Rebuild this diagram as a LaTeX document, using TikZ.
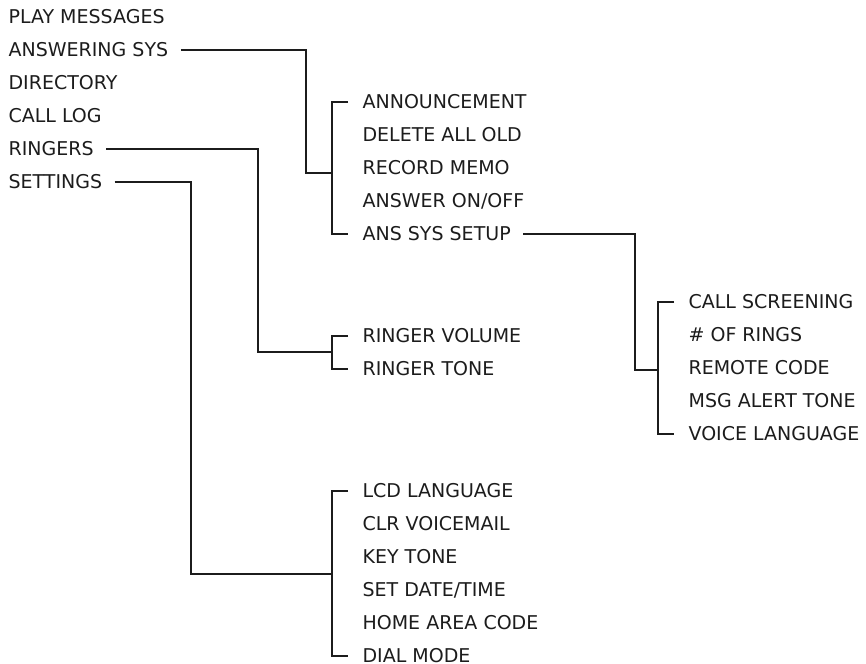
\documentclass[tikz,border=0pt]{standalone}
\usepackage{fontspec}
\setmainfont{DejaVu Sans}
\usepackage{xcolor}
\usepackage{tikz}
\usetikzlibrary{positioning}

\definecolor{menuink}{HTML}{1C1C1C}

\begin{document}
\begin{tikzpicture}[x=1pt,y=1pt,
    line width=1.2pt,draw=menuink,
    item/.style={anchor=west,inner sep=0pt,text=menuink,text height=13.8pt,text depth=0pt,
      font=\fontsize{19}{21}\selectfont},
    under/.style={below=33pt of #1.west,anchor=west}]
  \useasboundingbox (0,0) rectangle (866,-663);

  % main menu
  \node[item] (play) at (8,-17) {PLAY MESSAGES};
  \node[item, under=play] (answ) {ANSWERING SYS};
  \node[item, under=answ] (dir) {DIRECTORY};
  \node[item, under=dir] (log) {CALL LOG};
  \node[item, under=log] (ring) {RINGERS};
  \node[item, under=ring] (sett) {SETTINGS};

  % answering system
  \node[item] (annc) at (362,-102) {ANNOUNCEMENT};
  \node[item, under=annc] (delold) {DELETE ALL OLD};
  \node[item, under=delold] (memo) {RECORD MEMO};
  \node[item, under=memo] (onoff) {ANSWER ON/OFF};
  \node[item, under=onoff] (setup) {ANS SYS SETUP};

  % ans sys setup
  \node[item] (screen) at (688,-302) {CALL SCREENING};
  \node[item, under=screen] (rings) {\# OF RINGS};
  \node[item, under=rings] (remote) {REMOTE CODE};
  \node[item, under=remote] (alert) {MSG ALERT TONE};
  \node[item, under=alert] (vlang) {VOICE LANGUAGE};

  % ringers
  \node[item] (rvol) at (362,-336) {RINGER VOLUME};
  \node[item, under=rvol] (rtone) {RINGER TONE};

  % settings
  \node[item] (lcd) at (362,-491) {LCD LANGUAGE};
  \node[item, under=lcd] (clr) {CLR VOICEMAIL};
  \node[item, under=clr] (key) {KEY TONE};
  \node[item, under=key] (date) {SET DATE/TIME};
  \node[item, under=date] (area) {HOME AREA CODE};
  \node[item, under=area] (dial) {DIAL MODE};

  \coordinate (brA) at (332,-173);
  \coordinate (brR) at (332,-352);
  \coordinate (brS) at (332,-574);
  \coordinate (brC) at (657,-370);

  \foreach \a/\b in {annc/setup,rvol/rtone,lcd/dial,screen/vlang}
    \draw ([xshift=-14pt]\a.west) -| ([xshift=-30pt]\b.west) -- ([xshift=-14pt]\b.west);

  \draw ([xshift=12pt]answ.east) -| ([xshift=-26pt]brA) -- (brA);
  \draw ([xshift=12pt]ring.east) -| ([xshift=-74pt]brR) -- (brR);
  \draw ([xshift=12pt]sett.east) -| ([xshift=-141pt]brS) -- (brS);
  \draw ([xshift=12pt]setup.east) -| ([xshift=-22pt]brC) -- (brC);
\end{tikzpicture}
\end{document}
